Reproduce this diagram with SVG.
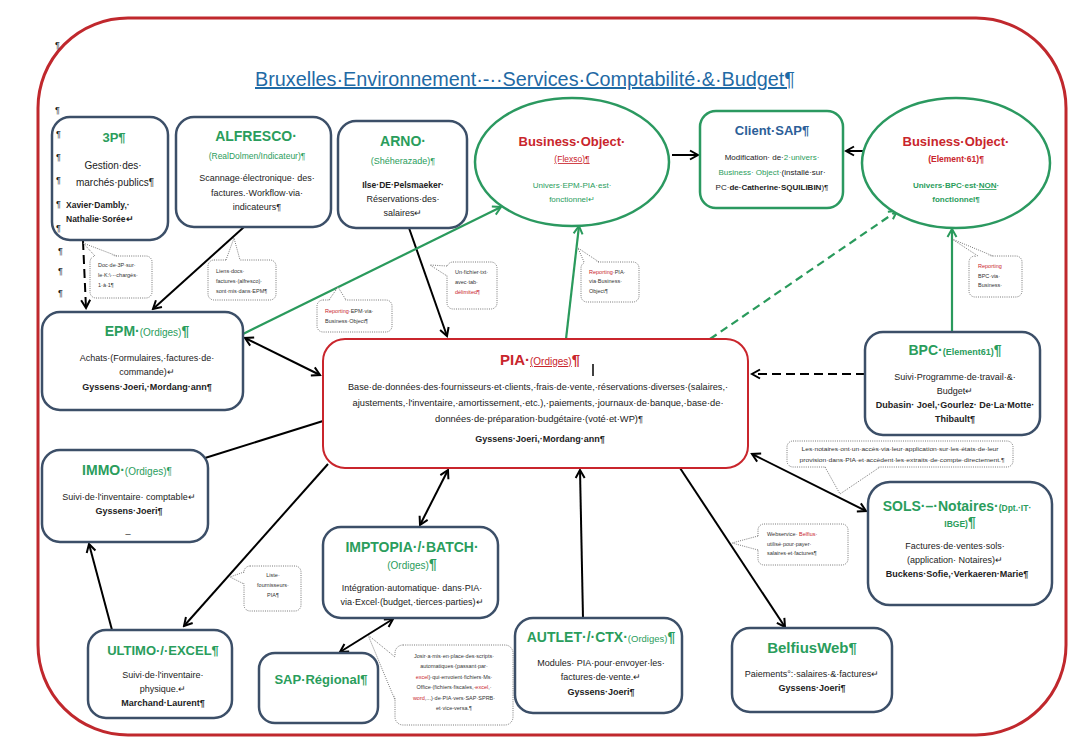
<svg xmlns="http://www.w3.org/2000/svg" width="1076" height="747" viewBox="0 0 1076 747">
<style>
text{font-family:"Liberation Sans",Arial,sans-serif;fill:#222;}
.c{text-anchor:middle;}
.t{font-size:9px;}
.b{font-weight:bold;}
.g{fill:#2a9d5c;}
.r{fill:#c9252c;}
.h{font-size:14px;font-weight:bold;}
.box{fill:#fff;stroke:#3c4f68;stroke-width:2.5;}
.gbox{fill:#fff;stroke:#2b9960;stroke-width:2.5;}
.rbox{fill:#fff;stroke:#c9252c;stroke-width:2;}
.ln{stroke:#000;stroke-width:2;fill:none;}
.gl{stroke:#2a9a5c;stroke-width:2.2;fill:none;}
.co{fill:#fff;stroke:#555;stroke-width:0.8;stroke-dasharray:1 1.2;}
.cp{fill:none;stroke:#555;stroke-width:0.8;stroke-dasharray:1 1.2;}
.ct{font-size:5.5px;fill:#333;}
.pm{font-size:9px;fill:#222;}
</style>
<defs>
<marker id="ab" markerUnits="userSpaceOnUse" markerWidth="12" markerHeight="12" refX="10" refY="6" orient="auto-start-reverse"><path d="M2,1.5 L10,6 L2,10.5" fill="none" stroke="#000" stroke-width="2"/></marker>
<marker id="ag" markerUnits="userSpaceOnUse" markerWidth="12" markerHeight="12" refX="10" refY="6" orient="auto-start-reverse"><path d="M2,1.5 L10,6 L2,10.5" fill="none" stroke="#2a9a5c" stroke-width="2"/></marker>
</defs>
<rect width="1076" height="747" fill="#fff"/>
<rect x="38" y="18" width="1028" height="717" rx="90" ry="90" fill="none" stroke="#c0282d" stroke-width="3"/>

<g id="title">
<text x="525" y="86" class="c" style="font-size:20px;fill:#1f6aa5;text-decoration:underline" textLength="540" lengthAdjust="spacingAndGlyphs">Bruxelles·Environnement·-··Services·Comptabilité·&amp;·Budget¶</text>
</g>

<g id="connectors">
<line x1="83" y1="241" x2="86" y2="308" class="ln" stroke-dasharray="9 5" marker-end="url(#ab)"/>
<line x1="244" y1="227" x2="153" y2="309" class="ln" marker-end="url(#ab)"/>
<line x1="409" y1="228" x2="447" y2="336" class="ln" marker-end="url(#ab)"/>
<line x1="243" y1="334" x2="501" y2="207" class="gl" marker-end="url(#ag)"/>
<line x1="245" y1="338" x2="320" y2="375" class="ln" marker-start="url(#ab)" marker-end="url(#ab)"/>
<line x1="566" y1="339" x2="579" y2="226" class="gl" marker-end="url(#ag)"/>
<line x1="710" y1="339" x2="897" y2="211" class="gl" stroke-dasharray="8 5" marker-end="url(#ag)"/>
<line x1="672" y1="155" x2="698" y2="155" class="ln" marker-end="url(#ab)"/>
<line x1="866" y1="151" x2="846" y2="151" class="ln" marker-end="url(#ab)"/>
<line x1="952" y1="331" x2="952" y2="229" class="gl" marker-end="url(#ag)"/>
<line x1="865" y1="374" x2="752" y2="374" class="ln" stroke-dasharray="9 5" marker-end="url(#ab)"/>
<line x1="205" y1="458" x2="323" y2="421" class="ln"/>
<line x1="328" y1="464" x2="184" y2="626" class="ln" marker-end="url(#ab)"/>
<line x1="112" y1="630" x2="89" y2="544" class="ln" marker-end="url(#ab)"/>
<line x1="448" y1="470" x2="420" y2="525" class="ln" marker-start="url(#ab)" marker-end="url(#ab)"/>
<line x1="393" y1="619" x2="340" y2="652" class="ln" marker-start="url(#ab)" marker-end="url(#ab)"/>
<line x1="583" y1="618" x2="580" y2="470" class="ln" marker-end="url(#ab)"/>
<line x1="680" y1="468" x2="785" y2="627" class="ln" marker-end="url(#ab)"/>
<line x1="752" y1="454" x2="866" y2="511" class="ln" marker-start="url(#ab)" marker-end="url(#ab)"/>
</g>

<g id="n-3p">
<rect x="52" y="117" width="116" height="123" rx="18" class="box"/>
<text x="114" y="142" class="c h g" style="font-size:13px">3P¶</text>
<text x="113" y="169" class="c" style="font-size:10px">Gestion·des·</text>
<text x="115" y="186" class="c" style="font-size:10px">marchés·publics¶</text>
<text x="66" y="208" class="t b" style="font-size:8.5px">Xavier·Dambly,·</text>
<text x="66" y="222" class="t b" style="font-size:8.5px">Nathalie·Sorée↵</text>
</g>

<g id="n-alfresco">
<rect x="176" y="117" width="155" height="110" rx="18" class="box"/>
<text x="256" y="141" class="c h g">ALFRESCO·</text>
<text x="257" y="159" class="c g" style="font-size:8.5px">(RealDolmen/Indicateur)¶</text>
<text x="257" y="181" class="c t">Scannage·électronique· des·</text>
<text x="257" y="196" class="c t">factures.·Workflow·via·</text>
<text x="257" y="210" class="c t">indicateurs¶</text>
</g>

<g id="n-arno">
<rect x="338" y="121" width="129" height="107" rx="18" class="box"/>
<text x="403" y="146" class="c h g">ARNO·</text>
<text x="403" y="164" class="c g" style="font-size:9px">(Shéherazade)¶</text>
<text x="403" y="188" class="c t b" style="font-size:8.5px">Ilse·DE·Pelsmaeker·</text>
<text x="403" y="202" class="c t">Réservations·des·</text>
<text x="403" y="216" class="c t">salaires↵</text>
</g>

<g id="n-bo-flexso">
<ellipse cx="572" cy="162" rx="97" ry="64" class="gbox"/>
<text x="572" y="146" class="c h r" style="font-size:13px">Business·Object·</text>
<text x="572" y="162" class="c r" style="font-size:8.5px;text-decoration:underline">(Flexso)¶</text>
<text x="572" y="188" class="c g" style="font-size:8px">Univers·EPM-PIA·est·</text>
<text x="572" y="202" class="c g" style="font-size:8px">fonctionnel↵</text>
</g>

<g id="n-client-sap">
<rect x="700" y="111" width="143" height="97" rx="16" class="gbox"/>
<text x="772" y="135" class="c h" style="font-size:13px;fill:#2c5e98">Client·SAP¶</text>
<text x="772" y="160" class="c" style="font-size:8px">Modification· de·<tspan class="g">2·univers·</tspan></text>
<text x="772" y="175" class="c" style="font-size:8px"><tspan class="g">Business· Object·</tspan>(installé·sur·</text>
<text x="772" y="190" class="c" style="font-size:8px">PC·<tspan class="b">de·Catherine·SQUILIBIN</tspan>)¶</text>
</g>

<g id="n-bo-element61">
<ellipse cx="956" cy="163" rx="94" ry="65" class="gbox"/>
<text x="956" y="146" class="c h r" style="font-size:13px">Business·Object·</text>
<text x="956" y="162" class="c r b" style="font-size:8.5px">(Element·61)¶</text>
<text x="956" y="188" class="c g b" style="font-size:8px">Univers·BPC·est·<tspan style="text-decoration:underline">NON</tspan>·</text>
<text x="956" y="202" class="c g b" style="font-size:8px">fonctionnel¶</text>
</g>

<g id="n-epm">
<rect x="42" y="312" width="201" height="98" rx="18" class="box"/>
<text x="147" y="336" class="c g"><tspan class="h">EPM·</tspan><tspan style="font-size:10px">(Ordiges)</tspan><tspan class="h">¶</tspan></text>
<text x="147" y="361" class="c t">Achats·(Formulaires,·factures·de·</text>
<text x="147" y="375" class="c t">commande)↵</text>
<text x="147" y="390" class="c t b">Gyssens·Joeri,·Mordang·ann¶</text>
</g>

<g id="n-pia">
<rect x="323" y="339" width="425" height="129" rx="22" class="rbox"/>
<text x="540" y="365" class="c r"><tspan class="h" style="font-size:15px">PIA·</tspan><tspan style="font-size:10px;text-decoration:underline">(Ordiges)</tspan><tspan class="h" style="font-size:15px">¶</tspan></text>
<line x1="593" y1="364" x2="593" y2="376" stroke="#000" stroke-width="1.5"/>
<text x="538" y="390" class="c t" textLength="380" lengthAdjust="spacingAndGlyphs">Base·de·données·des·fournisseurs·et·clients,·frais·de·vente,·réservations·diverses·(salaires,·</text>
<text x="538" y="406" class="c t" textLength="371" lengthAdjust="spacingAndGlyphs">ajustements,·l'inventaire,·amortissement,·etc.),·paiements,·journaux·de·banque,·base·de·</text>
<text x="539" y="422" class="c t" textLength="208" lengthAdjust="spacingAndGlyphs">données·de·préparation·budgétaire·(voté·et·WP)¶</text>
<text x="540" y="442" class="c t b">Gyssens·Joeri,·Mordang·ann¶</text>
</g>

<g id="n-bpc">
<rect x="865" y="332" width="175" height="103" rx="18" class="box"/>
<text x="955" y="355" class="c g"><tspan class="h">BPC·</tspan><tspan class="b" style="font-size:9px">(Element61)</tspan><tspan class="h">¶</tspan></text>
<text x="955" y="380" class="c t">Suivi·Programme·de·travail·&amp;·</text>
<text x="955" y="394" class="c t">Budget↵</text>
<text x="955" y="408" class="c t b">Dubasin· Joel,·Gourlez· De·La·Motte·</text>
<text x="955" y="422" class="c t b">Thibault¶</text>
</g>

<g id="n-immo">
<rect x="42" y="450" width="166" height="92" rx="18" class="box"/>
<text x="127" y="475" class="c g"><tspan class="h">IMMO·</tspan><tspan style="font-size:10px">(Ordiges)¶</tspan></text>
<text x="129" y="500" class="c t">Suivi·de·l'inventaire· comptable↵</text>
<text x="129" y="514" class="c t b">Gyssens·Joeri¶</text>
<text x="128" y="533" class="c t">_</text>
</g>

<g id="n-sols">
<rect x="868" y="482" width="184" height="123" rx="22" class="box"/>
<text x="957" y="511" class="c g"><tspan class="h">SOLS·–·Notaires·</tspan><tspan class="b" style="font-size:8.5px">(Dpt.·IT·</tspan></text>
<text x="960" y="527" class="c g"><tspan class="b" style="font-size:8.5px">IBGE)</tspan><tspan class="h">¶</tspan></text>
<text x="955" y="549" class="c t">Factures·de·ventes·sols·</text>
<text x="955" y="563" class="c t">(application· Notaires)↵</text>
<text x="957" y="577" class="c t b">Buckens·Sofie,·Verkaeren·Marie¶</text>
</g>

<g id="n-imptopia">
<rect x="323" y="527" width="175" height="91" rx="18" class="box"/>
<text x="412" y="552" class="c h g">IMPTOPIA·/·BATCH·</text>
<text x="412" y="569" class="c g" style="font-size:10px">(Ordiges)<tspan class="h">¶</tspan></text>
<text x="412" y="591" class="c t">Intégration·automatique· dans·PIA·</text>
<text x="412" y="605" class="c t">via·Excel·(budget,·tierces·parties)↵</text>
</g>

<g id="n-sap-regional">
<rect x="259" y="653" width="119" height="70" rx="16" class="box"/>
<text x="321" y="684" class="c h g" style="font-size:13px">SAP·Régional¶</text>
</g>

<g id="n-autlet">
<rect x="515" y="618" width="167" height="95" rx="18" class="box"/>
<text x="601" y="642" class="c g"><tspan class="h">AUTLET·/·CTX·</tspan><tspan style="font-size:9.5px">(Ordiges)</tspan><tspan class="h">¶</tspan></text>
<text x="601" y="666" class="c t">Modules· PIA·pour·envoyer·les·</text>
<text x="601" y="680" class="c t">factures·de·vente.↵</text>
<text x="601" y="695" class="c t b">Gyssens·Joeri¶</text>
</g>

<g id="n-belfiusweb">
<rect x="732" y="628" width="160" height="84" rx="18" class="box"/>
<text x="812" y="653" class="c h g" style="font-size:15px">BelfiusWeb¶</text>
<text x="812" y="677" class="c t">Paiements°:·salaires·&amp;·factures↵</text>
<text x="812" y="691" class="c t b">Gyssens·Joeri¶</text>
</g>

<g id="n-ultimo">
<rect x="88" y="630" width="144" height="88" rx="18" class="box"/>
<text x="163" y="655" class="c h g" style="font-size:13px">ULTIMO·/·EXCEL¶</text>
<text x="163" y="678" class="c t">Suivi·de·l'inventaire·</text>
<text x="163" y="692" class="c t">physique.↵</text>
<text x="163" y="706" class="c t b">Marchand·Laurent¶</text>
</g>

<g id="callouts">
<g id="c-doc3p">
<rect x="90" y="256" width="62" height="42" rx="6" class="co"/>
<polygon points="95,257.5 83,243 117,257.5" fill="#fff"/>
<polyline points="95,256 83,243 117,256" class="cp"/>
<text x="98" y="267" class="ct">Doc·de·3P·sur·</text>
<text x="98" y="277" class="ct">le·K:\·-·chargés·</text>
<text x="98" y="287" class="ct">1·à·1¶</text>
</g>
<g id="c-liens">
<rect x="208" y="260" width="68" height="40" rx="6" class="co"/>
<polygon points="226,261.5 234,238 240,261.5" fill="#fff"/>
<polyline points="226,260 234,238 240,260" class="cp"/>
<text x="216" y="273" class="ct">Liens·docs·</text>
<text x="216" y="283" class="ct">factures·(alfresco)·</text>
<text x="216" y="293" class="ct">sont·mis·dans·EPM¶</text>
</g>
<g id="c-repepm">
<rect x="317" y="300" width="75" height="32" rx="6" class="co"/>
<polygon points="329,301.5 338,287 346,301.5" fill="#fff"/>
<polyline points="329,300 338,287 346,300" class="cp"/>
<text x="325" y="313" class="ct"><tspan style="fill:#c9252c">Reporting</tspan>·EPM·via·</text>
<text x="325" y="323" class="ct">Business·Object¶</text>
</g>
<g id="c-txt">
<rect x="447" y="262" width="50" height="47" rx="6" class="co"/>
<polygon points="448.5,266 430,265 448.5,276" fill="#fff"/>
<polyline points="447,266 430,265 447,276" class="cp"/>
<text x="455" y="274" class="ct">Un·fichier·txt·</text>
<text x="455" y="284" class="ct">avec·tab·</text>
<text x="455" y="294" class="ct" style="fill:#c9252c">délimited¶</text>
</g>
<g id="c-reppia">
<rect x="581" y="262" width="58" height="40" rx="6" class="co"/>
<polygon points="584,263.5 578,248 599,263.5" fill="#fff"/>
<polyline points="584,262 578,248 599,262" class="cp"/>
<text x="589" y="274" class="ct"><tspan style="fill:#c9252c">Reporting</tspan>·PIA·</text>
<text x="589" y="283" class="ct">via·Business·</text>
<text x="589" y="293" class="ct">Object¶</text>
</g>
<g id="c-repbpc">
<rect x="969" y="256" width="53" height="41" rx="6" class="co"/>
<polygon points="978,257.5 952,239 993,257.5" fill="#fff"/>
<polyline points="978,256 952,239 993,256" class="cp"/>
<text x="978" y="268" class="ct" style="fill:#c9252c">Reporting</text>
<text x="978" y="278" class="ct">BPC·via·</text>
<text x="978" y="287" class="ct">Business·</text>
</g>
<g id="c-notaires">
<rect x="787" y="441" width="226" height="26" rx="6" class="co"/>
<polygon points="825,465.5 840,494 880,465.5" fill="#fff"/>
<polyline points="825,467 840,494 880,467" class="cp"/>
<text x="900" y="451" class="c ct" textLength="197" lengthAdjust="spacingAndGlyphs">Les·notaires·ont·un·accès·via·leur·application·sur·les·états·de·leur</text>
<text x="902" y="462" class="c ct" textLength="205" lengthAdjust="spacingAndGlyphs">provision·dans·PIA·et·accèdent·les·extraits·de·compte·directement.¶</text>
</g>
<g id="c-webservice">
<rect x="758" y="524" width="90" height="41" rx="6" class="co"/>
<polygon points="759.5,536 732,543 759.5,550" fill="#fff"/>
<polyline points="758,536 732,543 758,550" class="cp"/>
<text x="767" y="536" class="ct">Webservice· <tspan style="fill:#c9252c">Belfius</tspan>·</text>
<text x="767" y="546" class="ct">utilisé·pour·payer·</text>
<text x="767" y="555" class="ct">salaires·et·factures¶</text>
</g>
<g id="c-liste">
<rect x="244" y="566" width="57" height="45" rx="6" class="co"/>
<polygon points="245.5,572 230,577 245.5,584" fill="#fff"/>
<polyline points="244,572 230,577 244,584" class="cp"/>
<text x="273" y="577" class="c ct">Liste·</text>
<text x="273" y="587" class="c ct">fournisseurs·</text>
<text x="273" y="597" class="c ct">PIA¶</text>
</g>
<g id="c-josir">
<rect x="395" y="645" width="118" height="80" rx="8" class="co"/>
<polygon points="396.5,657 368,635 396.5,700" fill="#fff"/>
<polyline points="395,657 368,635 395,700" class="cp"/>
<text x="454" y="658" class="c ct">Josir·a·mis·en·place·des·scripts·</text>
<text x="454" y="668" class="c ct">automatiques·(passant·par·</text>
<text x="454" y="679" class="c ct"><tspan style="fill:#c9252c">excel</tspan>)·qui·envoient·fichiers·Ms·</text>
<text x="454" y="689" class="c ct">Office·(fichiers·fiscales,·<tspan style="fill:#c9252c">excel</tspan>,·</text>
<text x="454" y="700" class="c ct"><tspan style="fill:#c9252c">word</tspan>,...)·de·PIA·vers·SAP·SPRB·</text>
<text x="454" y="710" class="c ct">et·vice-versa.¶</text>
</g>
</g>

<g id="marks">
<text x="55" y="48" class="pm">¶</text>
<text x="55" y="113" class="pm">¶</text>
<text x="56" y="137" class="pm">¶</text>
<text x="56" y="160" class="pm">¶</text>
<text x="56" y="183" class="pm">¶</text>
<text x="56" y="207" class="pm">¶</text>
<text x="56" y="231" class="pm">¶</text>
<text x="58" y="254" class="pm">¶</text>
<text x="58" y="274" class="pm">¶</text>
<text x="58" y="296" class="pm">¶</text>
</g>
</svg>
